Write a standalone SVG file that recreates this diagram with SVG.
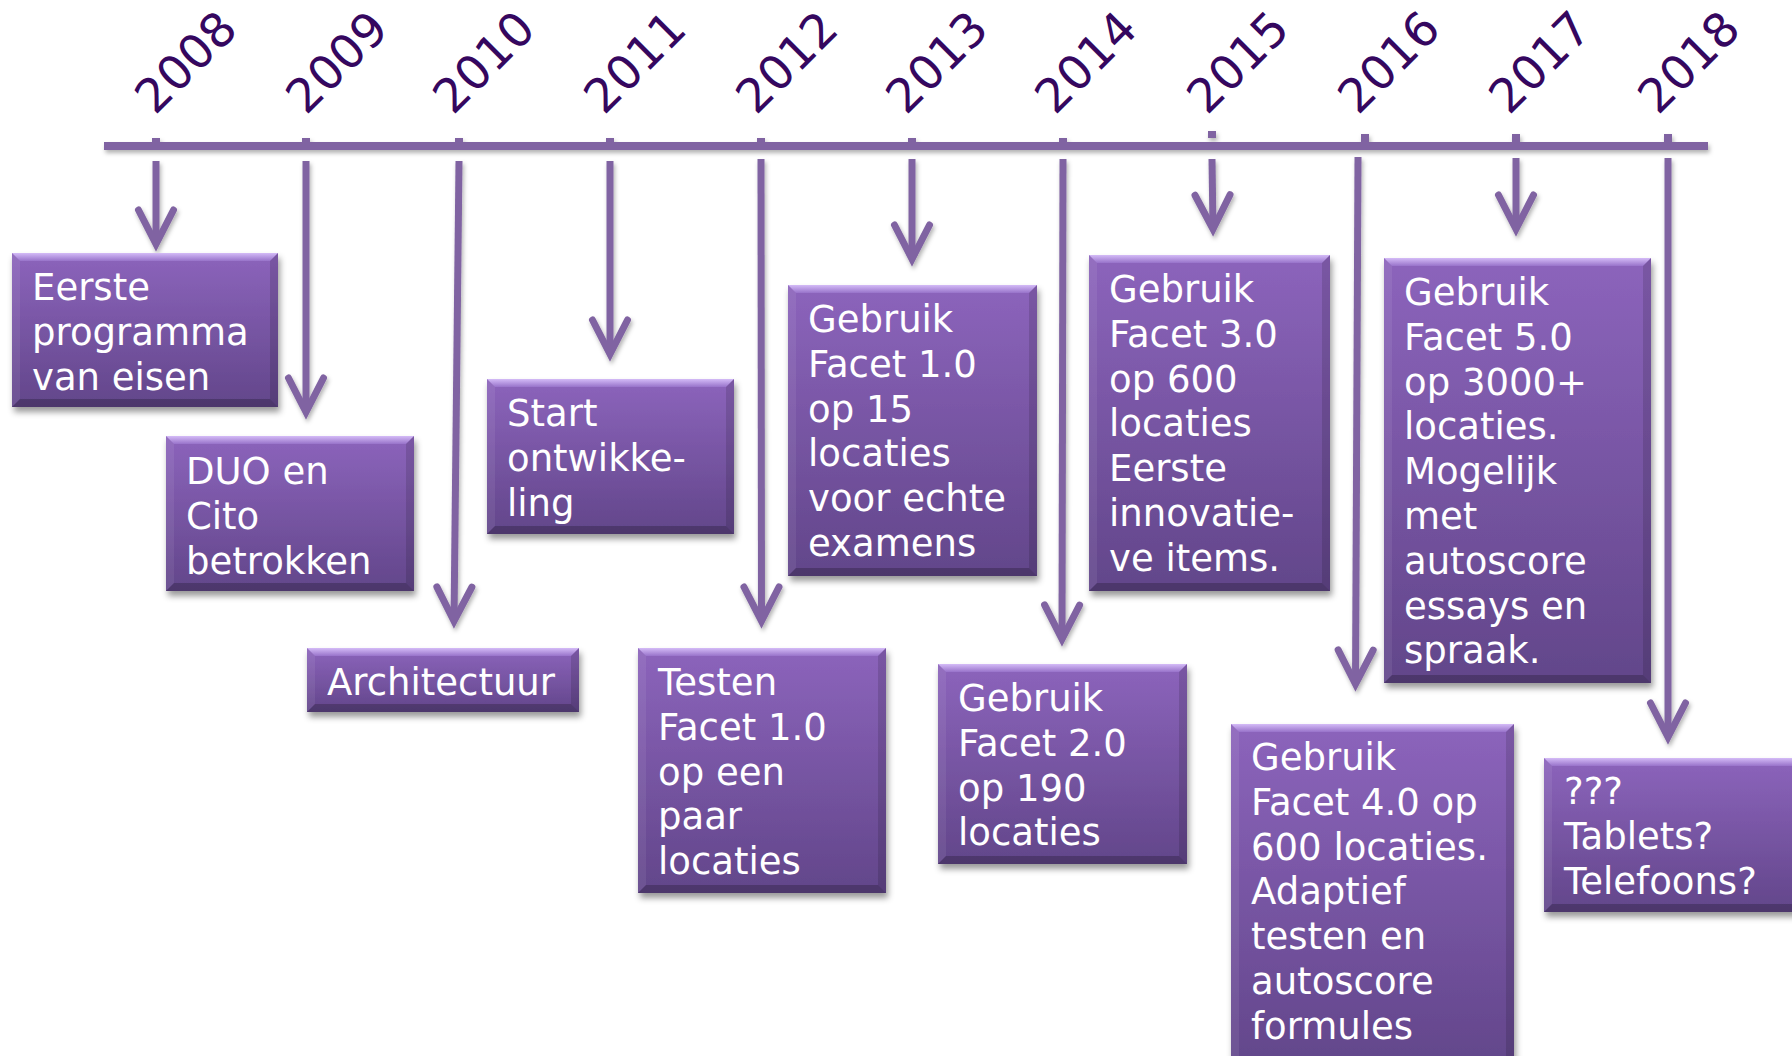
<svg xmlns="http://www.w3.org/2000/svg" width="1792" height="1056" viewBox="0 0 1792 1056">
<defs>
<style>
.yr{font-family:"DejaVu Sans",Verdana,sans-serif;font-size:47px;fill:#35075F}
.lbl{font-family:"DejaVu Sans",Verdana,sans-serif;font-size:37px;fill:#FFFFFF}
.box{fill:url(#body);filter:url(#bsh)}
.bt{fill:url(#topb)}
.bl{fill:#FFFFFF;fill-opacity:0.07}
.br{fill:#000000;fill-opacity:0.13}
.bb{fill:#000000;fill-opacity:0.22}
.ln{stroke:#8064A2;stroke-width:7;fill:none;marker-end:url(#chev)}
.bar{stroke:#8064A2;stroke-width:8;fill:none}
.tick{fill:#8064A2}
</style>
<linearGradient id="body" x1="0" y1="0" x2="0" y2="1">
<stop offset="0" stop-color="#8C64BC"/>
<stop offset="1" stop-color="#62468A"/>
</linearGradient>
<linearGradient id="topb" x1="0" y1="0" x2="0" y2="1">
<stop offset="0" stop-color="#D4BBF7"/>
<stop offset="1" stop-color="#9873CA"/>
</linearGradient>
<filter id="bsh" x="-10%" y="-10%" width="125%" height="130%">
<feDropShadow dx="2" dy="5" stdDeviation="3" flood-color="#000000" flood-opacity="0.4"/>
</filter>
<filter id="lsh" x="-5%" y="-5%" width="110%" height="120%">
<feDropShadow dx="1.5" dy="3" stdDeviation="2" flood-color="#000000" flood-opacity="0.3"/>
</filter>
<marker id="chev" markerUnits="userSpaceOnUse" orient="auto" overflow="visible" markerWidth="40" markerHeight="40" refX="0" refY="0">
<path d="M -34,-17.5 L 0,0 L -34,17.5" fill="none" stroke="#8064A2" stroke-width="7" stroke-linecap="round" stroke-linejoin="miter" stroke-miterlimit="10"/>
</marker>
</defs>
<rect width="1792" height="1056" fill="#FFFFFF"/>

<g id="years">
<text class="yr" transform="rotate(-45 155 116)" x="155" y="116">2008</text>
<text class="yr" transform="rotate(-45 306 116)" x="306" y="116">2009</text>
<text class="yr" transform="rotate(-45 453 116)" x="453" y="116">2010</text>
<text class="yr" transform="rotate(-45 604 116)" x="604" y="116">2011</text>
<text class="yr" transform="rotate(-45 756 116)" x="756" y="116">2012</text>
<text class="yr" transform="rotate(-45 906 116)" x="906" y="116">2013</text>
<text class="yr" transform="rotate(-45 1055 116)" x="1055" y="116">2014</text>
<text class="yr" transform="rotate(-45 1207 116)" x="1207" y="116">2015</text>
<text class="yr" transform="rotate(-45 1358 116)" x="1358" y="116">2016</text>
<text class="yr" transform="rotate(-45 1509 116)" x="1509" y="116">2017</text>
<text class="yr" transform="rotate(-45 1658 116)" x="1658" y="116">2018</text>
</g>

<g id="connectors" filter="url(#lsh)">
<line class="bar" x1="104" y1="146" x2="1708" y2="146"/>
<rect class="tick" x="152" y="138" width="8" height="8"/>
<rect class="tick" x="302" y="138" width="8" height="8"/>
<rect class="tick" x="455" y="138" width="8" height="8"/>
<rect class="tick" x="606" y="138" width="8" height="8"/>
<rect class="tick" x="757" y="138" width="8" height="8"/>
<rect class="tick" x="908" y="138" width="8" height="8"/>
<rect class="tick" x="1059" y="138" width="8" height="8"/>
<rect class="tick" x="1208" y="131" width="8" height="7"/>
<rect class="tick" x="1361" y="134" width="8" height="12"/>
<rect class="tick" x="1512" y="134" width="8" height="12"/>
<rect class="tick" x="1664" y="134" width="8" height="12"/>
<path class="ln" d="M156,161 L156,244"/>
<path class="ln" d="M306,161 L306,412"/>
<path class="ln" d="M459,161 L454,621"/>
<path class="ln" d="M610,161 L610,354"/>
<path class="ln" d="M761,159 L761.5,621"/>
<path class="ln" d="M912,159 L912,259"/>
<path class="ln" d="M1063,159 L1062,639"/>
<path class="ln" d="M1212,159 L1213,229"/>
<path class="ln" d="M1358,157 L1355.5,684"/>
<path class="ln" d="M1516,158 L1516,229"/>
<path class="ln" d="M1668,158 L1668,737"/>
</g>

<g id="n2008">
<rect class="box" x="12" y="253" width="266" height="154"/>
<polygon class="bt" points="12,253 278,253 270,261 20,261"/>
<polygon class="bl" points="12,253 20,261 20,399 12,407"/>
<polygon class="br" points="278,253 278,407 270,399 270,261"/>
<polygon class="bb" points="12,407 278,407 270,399 20,399"/>
<text class="lbl" x="32" y="300"><tspan x="32">Eerste</tspan><tspan x="32" dy="44.8">programma</tspan><tspan x="32" dy="44.8">van eisen</tspan></text>
</g>

<g id="n2009">
<rect class="box" x="166" y="436" width="248" height="155"/>
<polygon class="bt" points="166,436 414,436 406,444 174,444"/>
<polygon class="bl" points="166,436 174,444 174,583 166,591"/>
<polygon class="br" points="414,436 414,591 406,583 406,444"/>
<polygon class="bb" points="166,591 414,591 406,583 174,583"/>
<text class="lbl" x="186" y="484"><tspan x="186">DUO en</tspan><tspan x="186" dy="44.8">Cito</tspan><tspan x="186" dy="44.8">betrokken</tspan></text>
</g>

<g id="n2010">
<rect class="box" x="307" y="648" width="272" height="64"/>
<polygon class="bt" points="307,648 579,648 571,656 315,656"/>
<polygon class="bl" points="307,648 315,656 315,704 307,712"/>
<polygon class="br" points="579,648 579,712 571,704 571,656"/>
<polygon class="bb" points="307,712 579,712 571,704 315,704"/>
<text class="lbl" x="327" y="695">Architectuur</text>
</g>

<g id="n2011">
<rect class="box" x="487" y="379" width="247" height="155"/>
<polygon class="bt" points="487,379 734,379 726,387 495,387"/>
<polygon class="bl" points="487,379 495,387 495,526 487,534"/>
<polygon class="br" points="734,379 734,534 726,526 726,387"/>
<polygon class="bb" points="487,534 734,534 726,526 495,526"/>
<text class="lbl" x="507" y="426"><tspan x="507">Start</tspan><tspan x="507" dy="44.8">ontwikke-</tspan><tspan x="507" dy="44.8">ling</tspan></text>
</g>

<g id="n2012">
<rect class="box" x="638" y="648" width="248" height="245"/>
<polygon class="bt" points="638,648 886,648 878,656 646,656"/>
<polygon class="bl" points="638,648 646,656 646,885 638,893"/>
<polygon class="br" points="886,648 886,893 878,885 878,656"/>
<polygon class="bb" points="638,893 886,893 878,885 646,885"/>
<text class="lbl" x="658" y="695"><tspan x="658">Testen</tspan><tspan x="658" dy="44.8">Facet 1.0</tspan><tspan x="658" dy="44.8">op een</tspan><tspan x="658" dy="44.8">paar</tspan><tspan x="658" dy="44.8">locaties</tspan></text>
</g>

<g id="n2013">
<rect class="box" x="788" y="285" width="249" height="291"/>
<polygon class="bt" points="788,285 1037,285 1029,293 796,293"/>
<polygon class="bl" points="788,285 796,293 796,568 788,576"/>
<polygon class="br" points="1037,285 1037,576 1029,568 1029,293"/>
<polygon class="bb" points="788,576 1037,576 1029,568 796,568"/>
<text class="lbl" x="808" y="332"><tspan x="808">Gebruik</tspan><tspan x="808" dy="44.8">Facet 1.0</tspan><tspan x="808" dy="44.8">op 15</tspan><tspan x="808" dy="44.8">locaties</tspan><tspan x="808" dy="44.8">voor echte</tspan><tspan x="808" dy="44.8">examens</tspan></text>
</g>

<g id="n2014">
<rect class="box" x="938" y="664" width="249" height="200"/>
<polygon class="bt" points="938,664 1187,664 1179,672 946,672"/>
<polygon class="bl" points="938,664 946,672 946,856 938,864"/>
<polygon class="br" points="1187,664 1187,864 1179,856 1179,672"/>
<polygon class="bb" points="938,864 1187,864 1179,856 946,856"/>
<text class="lbl" x="958" y="711"><tspan x="958">Gebruik</tspan><tspan x="958" dy="44.8">Facet 2.0</tspan><tspan x="958" dy="44.8">op 190</tspan><tspan x="958" dy="44.8">locaties</tspan></text>
</g>

<g id="n2015">
<rect class="box" x="1089" y="255" width="241" height="336"/>
<polygon class="bt" points="1089,255 1330,255 1322,263 1097,263"/>
<polygon class="bl" points="1089,255 1097,263 1097,583 1089,591"/>
<polygon class="br" points="1330,255 1330,591 1322,583 1322,263"/>
<polygon class="bb" points="1089,591 1330,591 1322,583 1097,583"/>
<text class="lbl" x="1109" y="302"><tspan x="1109">Gebruik</tspan><tspan x="1109" dy="44.8">Facet 3.0</tspan><tspan x="1109" dy="44.8">op 600</tspan><tspan x="1109" dy="44.8">locaties</tspan><tspan x="1109" dy="44.8">Eerste</tspan><tspan x="1109" dy="44.8">innovatie-</tspan><tspan x="1109" dy="44.8">ve items.</tspan></text>
</g>

<g id="n2016">
<rect class="box" x="1231" y="724" width="283" height="345"/>
<polygon class="bt" points="1231,724 1514,724 1506,732 1239,732"/>
<polygon class="bl" points="1231,724 1239,732 1239,1061 1231,1069"/>
<polygon class="br" points="1514,724 1514,1069 1506,1061 1506,732"/>
<polygon class="bb" points="1231,1069 1514,1069 1506,1061 1239,1061"/>
<text class="lbl" x="1251" y="770"><tspan x="1251">Gebruik</tspan><tspan x="1251" dy="44.8">Facet 4.0 op</tspan><tspan x="1251" dy="44.8">600 locaties.</tspan><tspan x="1251" dy="44.8">Adaptief</tspan><tspan x="1251" dy="44.8">testen en</tspan><tspan x="1251" dy="44.8">autoscore</tspan><tspan x="1251" dy="44.8">formules</tspan></text>
</g>

<g id="n2017">
<rect class="box" x="1384" y="258" width="267" height="425"/>
<polygon class="bt" points="1384,258 1651,258 1643,266 1392,266"/>
<polygon class="bl" points="1384,258 1392,266 1392,675 1384,683"/>
<polygon class="br" points="1651,258 1651,683 1643,675 1643,266"/>
<polygon class="bb" points="1384,683 1651,683 1643,675 1392,675"/>
<text class="lbl" x="1404" y="305"><tspan x="1404">Gebruik</tspan><tspan x="1404" dy="44.8">Facet 5.0</tspan><tspan x="1404" dy="44.8">op 3000+</tspan><tspan x="1404" dy="44.8">locaties.</tspan><tspan x="1404" dy="44.8">Mogelijk</tspan><tspan x="1404" dy="44.8">met</tspan><tspan x="1404" dy="44.8">autoscore</tspan><tspan x="1404" dy="44.8">essays en</tspan><tspan x="1404" dy="44.8">spraak.</tspan></text>
</g>

<g id="n2018">
<rect class="box" x="1544" y="758" width="260" height="154"/>
<polygon class="bt" points="1544,758 1804,758 1796,766 1552,766"/>
<polygon class="bl" points="1544,758 1552,766 1552,904 1544,912"/>
<polygon class="bb" points="1544,912 1804,912 1796,904 1552,904"/>
<text class="lbl" x="1564" y="804"><tspan x="1564">???</tspan><tspan x="1564" dy="44.8">Tablets?</tspan><tspan x="1564" dy="44.8">Telefoons?</tspan></text>
</g>
</svg>
